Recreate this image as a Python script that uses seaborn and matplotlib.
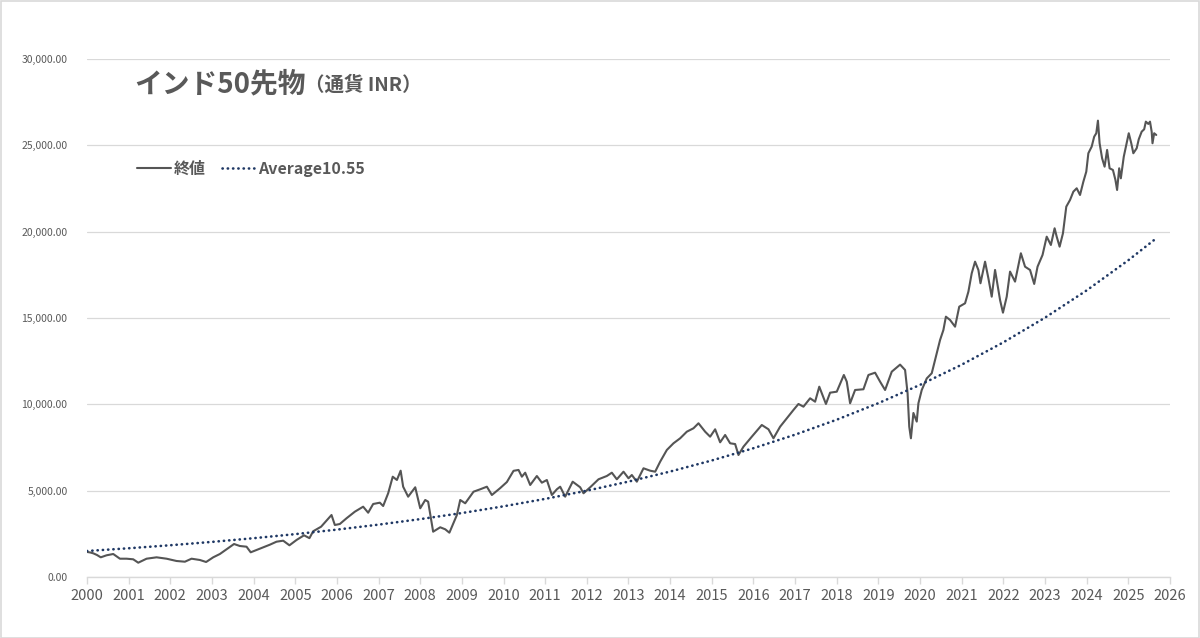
import matplotlib
matplotlib.use('Agg')
import matplotlib.pyplot as plt
import seaborn as sns
from matplotlib.patches import Rectangle

# ---------------- data ----------------
close_dates = [
    2000.00, 2000.08, 2000.15, 2000.24, 2000.33, 2000.47, 2000.63, 2000.79, 2000.95,
    2001.11, 2001.23, 2001.43, 2001.67, 2001.91, 2002.15, 2002.35, 2002.51, 2002.71,
    2002.86, 2003.03, 2003.19, 2003.35, 2003.53, 2003.67, 2003.83, 2003.93, 2004.07,
    2004.23, 2004.39, 2004.55, 2004.71, 2004.86, 2005.03, 2005.21, 2005.34, 2005.43,
    2005.62, 2005.87, 2005.95, 2006.07, 2006.23, 2006.43, 2006.63, 2006.75, 2006.87,
    2007.03, 2007.11, 2007.23, 2007.34, 2007.44, 2007.53, 2007.59, 2007.71, 2007.88,
    2008.00, 2008.12, 2008.19, 2008.31, 2008.48, 2008.60, 2008.70, 2008.88, 2008.96,
    2009.08, 2009.28, 2009.44, 2009.60, 2009.72, 2009.92, 2010.08, 2010.24, 2010.36,
    2010.44, 2010.52, 2010.64, 2010.80, 2010.92, 2011.04, 2011.16, 2011.28, 2011.36,
    2011.48, 2011.66, 2011.84, 2011.92, 2012.08, 2012.28, 2012.48, 2012.60, 2012.72,
    2012.88, 2013.00, 2013.08, 2013.20, 2013.36, 2013.52, 2013.64, 2013.76, 2013.92,
    2014.08, 2014.24, 2014.40, 2014.56, 2014.68, 2014.84, 2014.96, 2015.08, 2015.20,
    2015.32, 2015.44, 2015.56, 2015.64, 2015.76, 2015.96, 2016.20, 2016.36, 2016.48,
    2016.64, 2016.80, 2016.96, 2017.08, 2017.20, 2017.36, 2017.48, 2017.58, 2017.74,
    2017.84, 2018.00, 2018.17, 2018.24, 2018.32, 2018.44, 2018.64, 2018.76, 2018.92,
    2019.04, 2019.16, 2019.32, 2019.52, 2019.64, 2019.70, 2019.74, 2019.78, 2019.84,
    2019.92, 2019.96, 2020.04, 2020.16, 2020.28, 2020.38, 2020.48, 2020.56, 2020.62,
    2020.72, 2020.84, 2020.94, 2021.08, 2021.16, 2021.24, 2021.32, 2021.40, 2021.45,
    2021.56, 2021.64, 2021.72, 2021.80, 2021.92, 2021.99, 2022.08, 2022.16, 2022.28,
    2022.42, 2022.52, 2022.64, 2022.74, 2022.82, 2022.94, 2023.04, 2023.14, 2023.23,
    2023.28, 2023.35, 2023.43, 2023.51, 2023.60, 2023.68, 2023.76, 2023.84, 2023.92,
    2023.99, 2024.04, 2024.12, 2024.18, 2024.23, 2024.27, 2024.31, 2024.37, 2024.43,
    2024.49, 2024.55, 2024.63, 2024.69, 2024.73, 2024.78, 2024.82, 2024.89, 2024.95,
    2025.01, 2025.07, 2025.12, 2025.20, 2025.25, 2025.32, 2025.38, 2025.42, 2025.48,
    2025.52, 2025.56, 2025.58, 2025.62, 2025.67,
]
close_values = [
    1450, 1420, 1372, 1274, 1140, 1257, 1332, 1060, 1060,
    1025, 828, 1060, 1140, 1060, 927, 886, 1060, 985,
    869, 1140, 1332, 1603, 1911, 1795, 1755, 1430, 1564,
    1720, 1871, 2045, 2103, 1836, 2143, 2415, 2250, 2650,
    2913, 3591, 3012, 3070, 3400, 3782, 4072, 3724, 4228,
    4304, 4112, 4848, 5809, 5618, 6157, 5230, 4651, 5196,
    3979, 4460, 4361, 2624, 2879, 2763, 2566, 3591, 4460,
    4269, 4941, 5080, 5230, 4749, 5150, 5500, 6150, 6200,
    5809, 6041, 5329, 5850, 5462, 5618, 4749, 5080, 5230,
    4651, 5520, 5196, 4848, 5196, 5659, 5850, 6041, 5659,
    6099, 5717, 5908, 5520, 6296, 6157, 6099, 6678, 7356,
    7744, 8033, 8416, 8613, 8903, 8416, 8126, 8555, 7800,
    8225, 7744, 7700, 7066, 7547, 8126, 8804, 8555, 8033,
    8706, 9192, 9673, 10021, 9864, 10350, 10153, 11022, 10021,
    10675, 10733, 11700, 11312, 10061, 10831, 10872, 11700, 11833,
    11312, 10831, 11891, 12300, 11989, 10640, 8706, 8033, 9500,
    9000, 10061, 10831, 11500, 11800, 12760, 13727, 14306, 15077,
    14885, 14497, 15656, 15852, 16525, 17590, 18263, 17782, 17011,
    18263, 17300, 16235, 17782, 16042, 15308, 16235, 17686, 17107,
    18749, 17972, 17782, 16972, 17972, 18650, 19710, 19229, 20196,
    19710, 19131, 19904, 21448, 21836, 22318, 22512, 22125, 22895,
    23474, 24541, 24927, 25502, 25700, 26430, 25120, 24250, 23764,
    24734, 23670, 23573, 22994, 22415, 23670, 23090, 24341, 25019,
    25700, 25120, 24541, 24830, 25350, 25792, 25930, 26372, 26238,
    26372, 25792, 25120, 25700, 25600,
]

trend_years = [2000, 2001, 2002, 2003, 2004, 2005, 2006, 2007, 2008, 2009, 2010,
               2011, 2012, 2013, 2014, 2015, 2016, 2017, 2018, 2019, 2020, 2021,
               2022, 2023, 2024, 2025, 2025.62]
trend_values = [1506, 1664, 1839, 2033, 2247, 2483, 2744, 3033, 3352, 3704, 4094,
                4524, 5000, 5526, 6107, 6749, 7459, 8244, 9111, 10069, 11128, 12298,
                13591, 15020, 16600, 18346, 19520]

x_ticks = list(range(2000, 2027))
x_tick_labels = [str(y) for y in x_ticks]
y_ticks = [0, 5000, 10000, 15000, 20000, 25000, 30000]
y_tick_labels = [f"{v:,.2f}" for v in y_ticks]

title_main = "インド50先物"
title_sub = "（通貨 INR）"
series_names = ["終値", "Average10.55"]

# ---------------- drawing ----------------
sns.set_theme(style="white")
plt.rcParams['font.family'] = ['Noto Sans CJK JP', 'DejaVu Sans']

W, H = 1200, 638
fig = plt.figure(figsize=(W / 100, H / 100), dpi=100)
ax = fig.add_axes([87 / W, 1 - 577 / H, (1170 - 87) / W, (577 - 59) / H])

sns.lineplot(x=close_dates, y=close_values, ax=ax, color='#555555', lw=1.5,
             label=series_names[0], sort=False, estimator=None)
sns.lineplot(x=trend_years, y=trend_values, ax=ax, color='#1F3864', lw=1.9,
             linestyle=(0, (0.1, 1.9)), label=series_names[1], sort=False,
             estimator=None)
for ln in ax.get_lines()[1:]:
    ln.set_dash_capstyle('round')

ax.set_xlim(2000, 2026)
ax.set_ylim(0, 30000)
ax.set_xticks(x_ticks)
ax.set_xticklabels(x_tick_labels)
ax.set_yticks(y_ticks)
ax.set_yticklabels(y_tick_labels)
ax.set_xlabel("")
ax.set_ylabel("")

ax.grid(axis='y', color='#D9D9D9', lw=0.9)
ax.grid(axis='x', visible=False)
for s in ['top', 'right', 'left']:
    ax.spines[s].set_visible(False)
ax.spines['bottom'].set_color('#D9D9D9')
ax.spines['bottom'].set_linewidth(1.0)
ax.tick_params(axis='x', which='major', bottom=True, length=5, width=1.0,
               color='#D9D9D9', labelsize=10.5, labelcolor='#595959', pad=4)
ax.tick_params(axis='y', left=False, labelsize=7.5, labelcolor='#595959', pad=8)

leg = ax.get_legend()
if leg is not None:
    leg.remove()
handles, labels = ax.get_legend_handles_labels()
fig.legend(handles, labels, loc='center left',
           bbox_to_anchor=(137 / W, 1 - 169 / H), ncol=2, frameon=False,
           borderpad=0, borderaxespad=0, handlelength=2.1, handletextpad=0.2,
           columnspacing=1.0, prop={'size': 11.5, 'weight': 'bold'},
           labelcolor='#595959')

fig.text(134 / W, 1 - 92 / H, title_main, fontsize=20, fontweight='bold',
         color='#595959', va='baseline', ha='left')
fig.text(305 / W, 1 - 91 / H, title_sub, fontsize=14, fontweight='bold',
         color='#595959', va='baseline', ha='left')

fig.patches.append(Rectangle((0.5 / W, 0.5 / H), 1 - 1.5 / W, 1 - 1.5 / H,
                             transform=fig.transFigure, fill=False,
                             edgecolor='#D9D9D9', lw=1.2))

fig.savefig('out.png', dpi=100, facecolor='white')
